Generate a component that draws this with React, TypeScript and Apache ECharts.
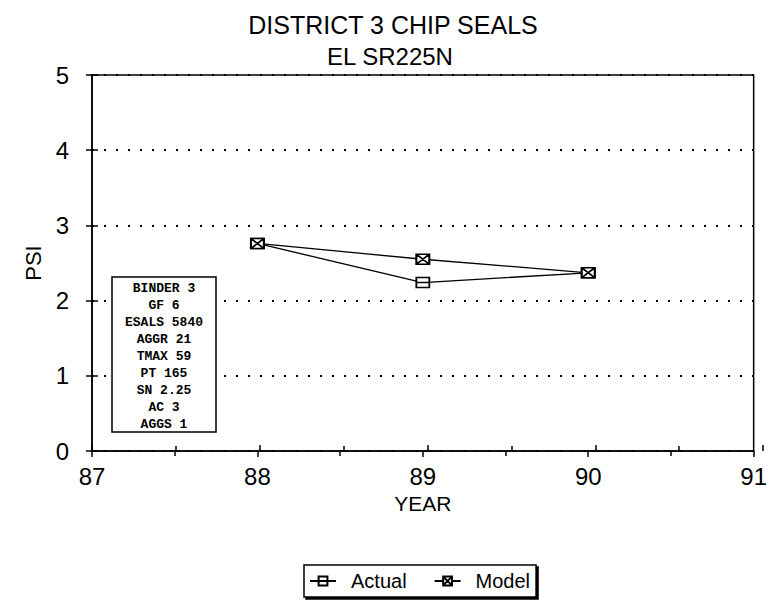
import React, { useEffect, useRef } from "react";
import * as echarts from "echarts";

const years = [88, 89, 90];
const actual = [2.76, 2.24, 2.37];
const model = [2.76, 2.55, 2.37];
const seriesNames = ["Actual", "Model"];
const titleText = "DISTRICT 3 CHIP SEALS";
const subtitleText = "EL SR225N";
const xName = "YEAR";
const yName = "PSI";
const boxLines = ["BINDER 3", "GF 6", "ESALS 5840", "AGGR 21", "TMAX 59", "PT 165", "SN 2.25", "AC 3", "AGGS 1"];

const ACTUAL_SYMBOL = "path://M0,0H14V10H0Z M0,5H14";
const MODEL_SYMBOL = "path://M0,0H14V10H0Z M0,0L14,10 M14,0L0,10";
const FONT = "'Liberation Sans', Arial, sans-serif";

export default function App() {
  const ref = useRef<HTMLDivElement>(null);
  useEffect(() => {
    const chart = echarts.init(ref.current!, undefined, { renderer: "svg" });
    const gridRect = { left: 92, right: 7, top: 75, bottom: 154 };
    const boxX = 112, boxY = 277, boxW = 104, boxH = 155;
    const lineStep = 17.1;
    const graphics: any[] = [
      { type: "text", x: 393, y: 25, style: { text: titleText, font: `25px ${FONT}`, fill: "#000", textAlign: "center", textVerticalAlign: "middle" } },
      { type: "text", x: 390, y: 56, style: { text: subtitleText, font: `24px ${FONT}`, fill: "#000", textAlign: "center", textVerticalAlign: "middle" } },
      { type: "rect", shape: { x: boxX, y: boxY, width: boxW, height: boxH }, style: { fill: "#fff", stroke: "#000", lineWidth: 1.5 }, z: 10 },
      ...boxLines.map((t, i) => ({
        type: "text",
        x: boxX + boxW / 2,
        y: boxY + 11 + i * lineStep,
        z: 11,
        style: { text: t, font: `bold 13px 'Courier New', 'Liberation Mono', monospace`, fill: "#000", textAlign: "center", textVerticalAlign: "middle" },
      })),
    ];
    chart.setOption({
      animation: false,
      backgroundColor: "#fff",
      textStyle: { fontFamily: FONT, color: "#000" },
      graphic: graphics,
      grid: [
        { ...gridRect, show: true, borderColor: "#000", borderWidth: 1.5, backgroundColor: "transparent" },
        { ...gridRect, show: false },
      ],
      legend: {
        data: seriesNames,
        top: 565,
        left: 304,
        borderColor: "#000",
        borderWidth: 1.5,
        padding: [6, 6, 6, 5],
        itemWidth: 26,
        itemHeight: 11,
        itemGap: 27,
        textStyle: { fontSize: 20, color: "#000", fontFamily: FONT, padding: [0, 0, 0, 10] },
        shadowColor: "#000",
        shadowOffsetX: 2,
        shadowOffsetY: 2,
        shadowBlur: 0,
        backgroundColor: "#fff",
      },
      xAxis: [
        {
          type: "value", gridIndex: 0, min: 87, max: 91, interval: 1,
          name: xName, nameLocation: "middle", nameGap: 41,
          nameTextStyle: { fontSize: 21, color: "#000", fontFamily: FONT },
          axisLine: { lineStyle: { color: "#000", width: 1.5 } },
          axisTick: { show: true, inside: false, length: 6, lineStyle: { color: "#000", width: 1.5 } },
          minorTick: { show: true, splitNumber: 2, length: 5, lineStyle: { color: "#000", width: 1.5 } },
          axisLabel: { fontSize: 24, color: "#000", margin: 13, fontFamily: FONT },
          splitLine: { show: false },
        },
        {
          type: "value", gridIndex: 1, min: 87, max: 91, interval: 1,
          axisLine: { show: false },
          axisTick: { show: true, inside: true, length: 6, lineStyle: { color: "#000", width: 1.5 } },
          minorTick: { show: true, splitNumber: 2, length: 5, lineStyle: { color: "#000", width: 1.5 } },
          axisLabel: { show: false },
          splitLine: { show: false },
        },
      ],
      yAxis: [
        {
          type: "value", gridIndex: 0, min: 0, max: 5, interval: 1,
          name: yName, nameLocation: "middle", nameGap: 40, nameRotate: 90,
          nameTextStyle: { fontSize: 22, color: "#000", fontFamily: FONT },
          axisLine: { show: true, lineStyle: { color: "#000", width: 1.5 } },
          axisTick: { show: true, inside: false, length: 6, lineStyle: { color: "#000", width: 1.5 } },
          axisLabel: { fontSize: 24, color: "#000", margin: 23, fontFamily: FONT },
          splitLine: { show: true, lineStyle: { color: "#000", width: 2, type: [2, 10] } },
        },
        {
          type: "value", gridIndex: 1, min: 0, max: 5, interval: 1,
          axisLine: { show: false },
          axisTick: { show: true, inside: true, length: 6, lineStyle: { color: "#000", width: 1.5 } },
          axisLabel: { show: false },
          splitLine: { show: false },
        },
      ],
      series: [
        {
          name: seriesNames[0], type: "line", xAxisIndex: 0, yAxisIndex: 0,
          data: years.map((y, i) => [y, actual[i]]),
          symbol: ACTUAL_SYMBOL, symbolSize: [13, 10],
          lineStyle: { color: "#000", width: 1.3 },
          itemStyle: { color: "#fff", borderColor: "#000", borderWidth: 1.6 },
          z: 3,
        },
        {
          name: seriesNames[1], type: "line", xAxisIndex: 0, yAxisIndex: 0,
          data: years.map((y, i) => [y, model[i]]),
          symbol: MODEL_SYMBOL, symbolSize: [13, 10],
          lineStyle: { color: "#000", width: 1.3 },
          itemStyle: { color: "#fff", borderColor: "#000", borderWidth: 1.8 },
          z: 4,
        },
      ],
    });
    return () => chart.dispose();
  }, []);
  return <div ref={ref} style={{ position: "fixed", left: 0, top: 0, width: 770, height: 605 }} />;
}
